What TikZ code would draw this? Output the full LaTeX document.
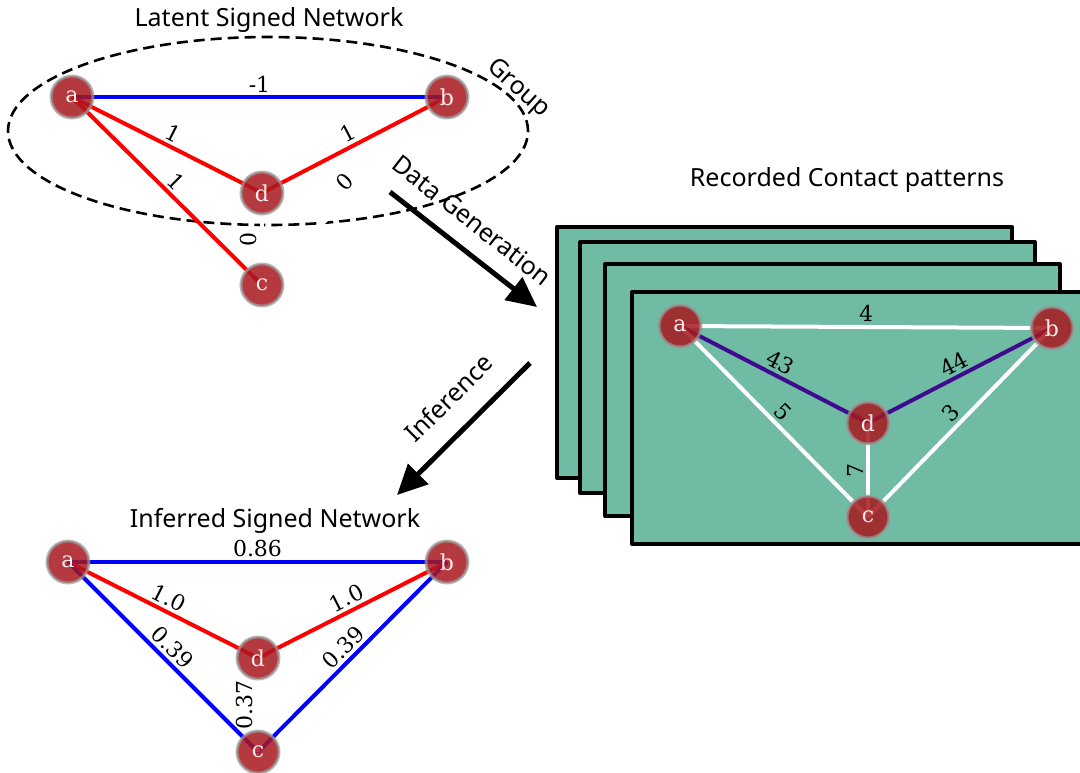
\documentclass[tikz,border=0pt]{standalone}
\usepackage{fontspec}
\setmainfont{DejaVu Serif}
\newfontfamily\titlefont{Noto Sans}
\usetikzlibrary{arrows.meta,shapes.geometric,backgrounds}
\definecolor{nodered}{HTML}{A7181F}
\definecolor{panelgreen}{HTML}{6FBBA4}
\definecolor{contactpurple}{HTML}{3F0A8F}

\begin{document}
\begin{tikzpicture}[x=0.5pt,y=-0.5pt,
  agent/.style={circle,fill=nodered,fill opacity=0.85,draw=gray!80,draw opacity=0.7,line width=1.5pt,
    minimum size=21pt,inner sep=0pt,text=white!92!red,text opacity=1,font=\fontsize{11}{11}\selectfont},
  wedge/.style={line width=2pt},
  lbl/.style={sloped,above,inner sep=1.5pt,text=black,font=\fontsize{11}{11}\selectfont},
  title/.style={font=\titlefont\fontsize{12.5}{14}\selectfont},
  panel/.style={draw=black,fill=panelgreen,line width=2pt,line join=round},
  flow/.style={line width=2.5pt,-{Triangle[length=15pt,width=14pt]}}]
\useasboundingbox (0,0) rectangle (1080,772);

% latent network
\node[title] (t1) at (269,20) {Latent Signed Network};
\node[agent] (a) at (72,97) {a};
\node[agent] (b) at (447,97) {b};
\node[agent] (d) at (262,193) {d};
\node[agent] (c) at (262,285) {c};
\node[title,rotate=-42] (grp) at (518,89) {Group};

% recorded contacts
\node[title] (t2) at (847,180) {Recorded Contact patterns};
\node[agent] (ar) at (680,326) {a};
\node[agent] (br) at (1052,328) {b};
\node[agent] (dr) at (868,423) {d};
\node[agent] (cr) at (868,517) {c};

% inferred network
\node[title] (t3) at (275,521) {Inferred Signed Network};
\node[agent] (ai) at (68,562) {a};
\node[agent] (bi) at (447,562) {b};
\node[agent] (di) at (258,658) {d};
\node[agent] (ci) at (258,752) {c};

\begin{scope}[on background layer]
\draw[panel] (557,227) rectangle (1012,478);
\draw[panel] (580,242) rectangle (1035,493);
\draw[panel] (605,264) rectangle (1060,516);
\draw[panel] (632,292) rectangle (1100,544);

\node[draw,ellipse,line width=1.3pt,dash pattern=on 5.5pt off 3pt,minimum width=260pt,minimum height=94pt] (group) at (268,131) {};

\draw[wedge,blue] (a.center) edge node[lbl] {-1} (b.center);
\draw[wedge,red] (a.center) edge node[lbl] {1} (d.center);
\draw[wedge,red] (a.center) edge node[lbl] {1} (c.center);
\draw[wedge,red] (d.center) edge node[lbl] {1} (b.center);
\draw[wedge,white] (c.center) edge node[lbl] {0} (b.center);
\draw[wedge,white] (c.center) edge node[lbl] {0} (d.center);

\draw[wedge,white] (ar.center) edge node[lbl] {4} (br.center);
\draw[wedge,contactpurple] (ar.center) edge node[lbl] {43} (dr.center);
\draw[wedge,contactpurple] (dr.center) edge node[lbl] {44} (br.center);
\draw[wedge,white] (ar.center) edge node[lbl] {5} (cr.center);
\draw[wedge,white] (cr.center) edge node[lbl] {3} (br.center);
\draw[wedge,white] (cr.center) edge node[lbl] {7} (dr.center);

\draw[wedge,blue] (ai.center) edge node[lbl] {0.86} (bi.center);
\draw[wedge,red] (ai.center) edge node[lbl] {1.0} (di.center);
\draw[wedge,red] (di.center) edge node[lbl] {1.0} (bi.center);
\draw[wedge,blue] (ai.center) edge node[lbl] {0.39} (ci.center);
\draw[wedge,blue] (ci.center) edge node[lbl] {0.39} (bi.center);
\draw[wedge,white] (ci.center) edge node[lbl] {0.37} (di.center);
\end{scope}

% arrows between the panels
\coordinate (gen0) at (390,192);
\coordinate (gen1) at (537,307);
\coordinate (inf0) at (530,363);
\coordinate (inf1) at (397,495);
\draw[flow] (gen0) -- node[pos=0.44,sloped,above=5pt,title] {Data Generation} (gen1);
\draw[flow] (inf0) -- node[pos=0.44,sloped,above=7pt,title] {Inference} (inf1);
\end{tikzpicture}
\end{document}
